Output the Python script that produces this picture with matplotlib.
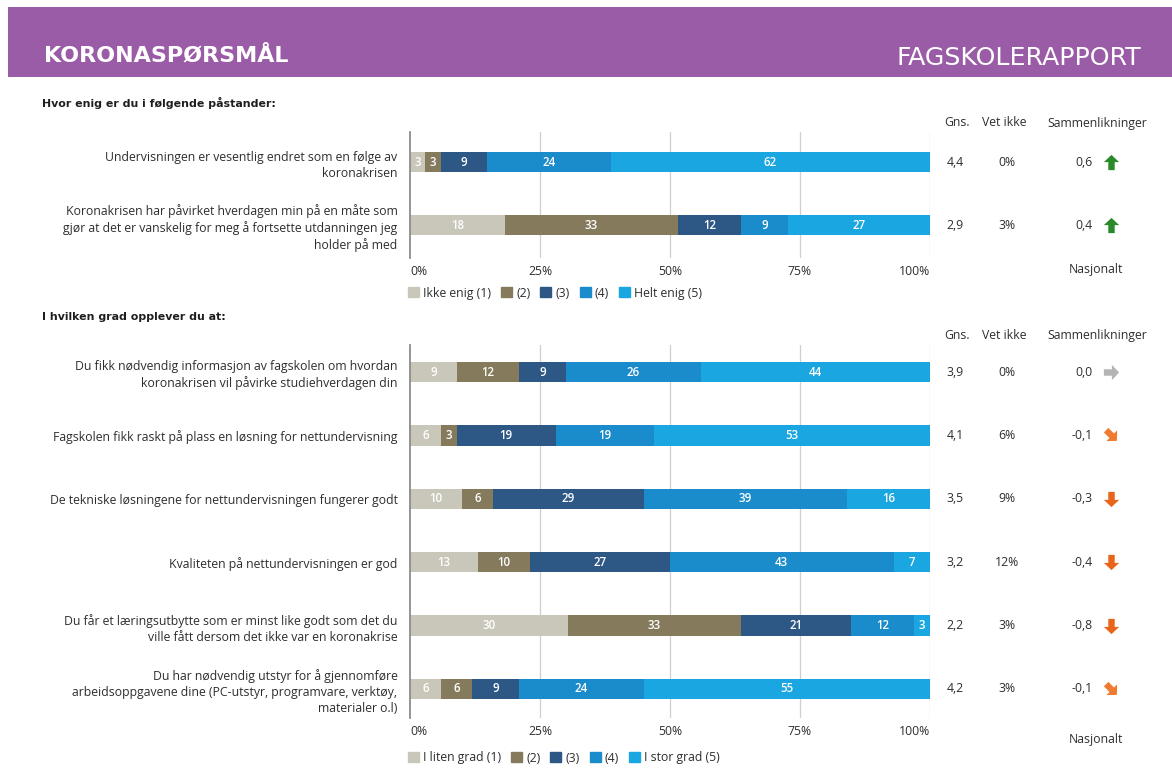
import numpy as np
import matplotlib.pyplot as plt
from matplotlib.path import Path
from matplotlib.patches import Rectangle, Patch
from matplotlib.transforms import Affine2D, blended_transform_factory

plt.rcParams['font.family'] = ['Open Sans', 'DejaVu Sans']

W, H = 1172, 769

# --- data -------------------------------------------------------------
enig_labels = [
    'Undervisningen er vesentlig endret som en følge av\nkoronakrisen',
    'Koronakrisen har påvirket hverdagen min på en måte som\n'
    'gjør at det er vanskelig for meg å fortsette utdanningen jeg\nholder på med',
]
enig_values = [[3, 3, 9, 24, 62],
               [18, 33, 12, 9, 27]]
enig_gns = ['4,4', '2,9']
enig_vetikke = ['0%', '3%']
enig_diff = [0.6, 0.4]
enig_legend = ['Ikke enig (1)', '(2)', '(3)', '(4)', 'Helt enig (5)']

grad_labels = [
    'Du fikk nødvendig informasjon av fagskolen om hvordan\n'
    'koronakrisen vil påvirke studiehverdagen din',
    'Fagskolen fikk raskt på plass en løsning for nettundervisning',
    'De tekniske løsningene for nettundervisningen fungerer godt',
    'Kvaliteten på nettundervisningen er god',
    'Du får et læringsutbytte som er minst like godt som det du\n'
    'ville fått dersom det ikke var en koronakrise',
    'Du har nødvendig utstyr for å gjennomføre\n'
    'arbeidsoppgavene dine (PC-utstyr, programvare, verktøy,\nmaterialer o.l)',
]
grad_values = [[9, 12, 9, 26, 44],
               [6, 3, 19, 19, 53],
               [10, 6, 29, 39, 16],
               [13, 10, 27, 43, 7],
               [30, 33, 21, 12, 3],
               [6, 6, 9, 24, 55]]
grad_gns = ['3,9', '4,1', '3,5', '3,2', '2,2', '4,2']
grad_vetikke = ['0%', '6%', '9%', '12%', '3%', '3%']
grad_diff = [0.0, -0.1, -0.3, -0.4, -0.8, -0.1]
grad_legend = ['I liten grad (1)', '(2)', '(3)', '(4)', 'I stor grad (5)']

ticks = [0, 25, 50, 75, 100]
tick_labels = ['0%', '25%', '50%', '75%', '100%']

colors = ['#c9c7b9', '#857b5c', '#2d5886', '#1a8bcb', '#19a6e1']
txt = '#2e2e2e'
fs = 8.8


def fx(px):
    return px / W


def fy(py):
    return 1 - py / H


# block arrow pointing up, rotated per direction
arrow_up = Path([(0, 1), (-1, 0.05), (-0.42, 0.05), (-0.42, -1),
                 (0.42, -1), (0.42, 0.05), (1, 0.05), (0, 1)],
                [Path.MOVETO] + [Path.LINETO] * 6 + [Path.CLOSEPOLY])


def arrow_for(d):
    if d > 0:
        return 0, '#2a8a2a'
    if d == 0:
        return -90, '#b4b4b4'
    if d > -0.2:
        return -135, '#f07a30'
    return 180, '#e8651a'


fig = plt.figure(figsize=(W / 100, H / 100), dpi=100)

# header band
fig.add_artist(Rectangle((fx(8), fy(77)), 1 - fx(8), 70 / H,
                         transform=fig.transFigure, color='#9b5ca7', lw=0))
fig.text(fx(44), fy(55), 'KORONASPØRSMÅL', color='white', fontsize=16,
         fontweight='bold', family='DejaVu Sans', va='center')
fig.text(fx(1141), fy(58), 'FAGSKOLERAPPORT', color='white', fontsize=18.2,
         family='DejaVu Sans', va='center', ha='right')


def section(title, title_y, top, bottom, first_row, spacing, labels, values,
            gns, vetikke, diff, legend_labels, legend_y, head_y, nasj_y):
    n = len(values)
    last_row = first_row + (n - 1) * spacing
    ax = fig.add_axes([fx(410), fy(bottom), fx(930) - fx(410),
                       (bottom - top) / H])
    vals = np.array(values, dtype=float)
    shares = vals / vals.sum(axis=1, keepdims=True) * 100
    left = np.zeros(n)
    for k in range(vals.shape[1]):
        ax.barh(np.arange(n), shares[:, k], left=left, height=0.32,
                color=colors[k], zorder=2)
        for i in range(n):
            ax.text(left[i] + shares[i, k] / 2, i, f'{int(vals[i, k])}',
                    ha='center', va='center', color='white', fontsize=8.3,
                    fontweight='semibold', zorder=3)
        left += shares[:, k]

    ax.set_xlim(0, 100)
    ax.set_ylim((n - 1) + (bottom - last_row) / spacing,
                -(first_row - top) / spacing)
    ax.set_xticks(ticks, tick_labels)
    ax.set_yticks(np.arange(n), labels)
    ax.tick_params(axis='x', length=0, pad=5, labelsize=fs, labelcolor=txt)
    ax.tick_params(axis='y', length=0, pad=9, labelsize=fs, labelcolor=txt)
    xl = ax.get_xticklabels()
    xl[0].set_horizontalalignment('left')
    xl[-1].set_horizontalalignment('right')
    for lab in ax.get_yticklabels():
        lab.set_multialignment('right')
        lab.set_linespacing(1.3)
    for x in ticks[1:]:
        ax.axvline(x, color='#cfcfcf', lw=0.9, zorder=1)
    for s in ['top', 'right', 'bottom']:
        ax.spines[s].set_visible(False)
    ax.spines['left'].set_color('#8c8c8c')
    ax.spines['left'].set_linewidth(1.3)

    fig.text(fx(42), fy(title_y), title, fontsize=7.9, fontweight='bold',
             family='DejaVu Sans', color='#1e1e1e', va='center')

    handles = [Patch(color=c) for c in colors]
    ax.legend(handles, legend_labels, loc='center left', ncol=5,
              bbox_to_anchor=(fx(403), fy(legend_y)),
              bbox_transform=fig.transFigure, frameon=False, fontsize=fs,
              handlelength=0.9, handleheight=0.9, handletextpad=0.35,
              columnspacing=0.8, borderaxespad=0, labelcolor=txt)

    # table to the right of the bars
    fig.text(fx(957), fy(head_y), 'Gns.', ha='center', va='center',
             fontsize=fs, color=txt)
    fig.text(fx(1004), fy(head_y), 'Vet ikke', ha='center', va='center',
             fontsize=fs, color=txt)
    fig.text(fx(1097), fy(head_y), 'Sammenlikninger', ha='center',
             va='center', fontsize=fs, color=txt)
    fig.text(fx(1096), fy(nasj_y), 'Nasjonalt', ha='center', va='center',
             fontsize=fs, color=txt)
    tr = blended_transform_factory(fig.transFigure, ax.transData)
    for i in range(n):
        ax.text(fx(955), i, gns[i], transform=tr, ha='center', va='center',
                fontsize=fs, color=txt, clip_on=False)
        ax.text(fx(1007), i, vetikke[i], transform=tr, ha='center',
                va='center', fontsize=fs, color=txt, clip_on=False)
        ax.text(fx(1093), i, f'{diff[i]:.1f}'.replace('.', ','),
                transform=tr, ha='right', va='center', fontsize=fs,
                color=txt, clip_on=False)
        ang, col = arrow_for(diff[i])
        marker = Affine2D().rotate_deg(ang).transform_path(arrow_up)
        ax.plot([fx(1111)], [i], transform=tr, marker=marker, markersize=11,
                color=col, markeredgewidth=0, clip_on=False)
    return ax


section('Hvor enig er du i følgende påstander:', 103, 132, 258, 162, 63,
        enig_labels, enig_values, enig_gns, enig_vetikke, enig_diff,
        enig_legend, 293, 123, 270)
section('I hvilken grad opplever du at:', 317, 345, 718, 372, 63.4,
        grad_labels, grad_values, grad_gns, grad_vetikke, grad_diff,
        grad_legend, 758, 335, 740)

fig.savefig('out.png', dpi=100, facecolor='white')
